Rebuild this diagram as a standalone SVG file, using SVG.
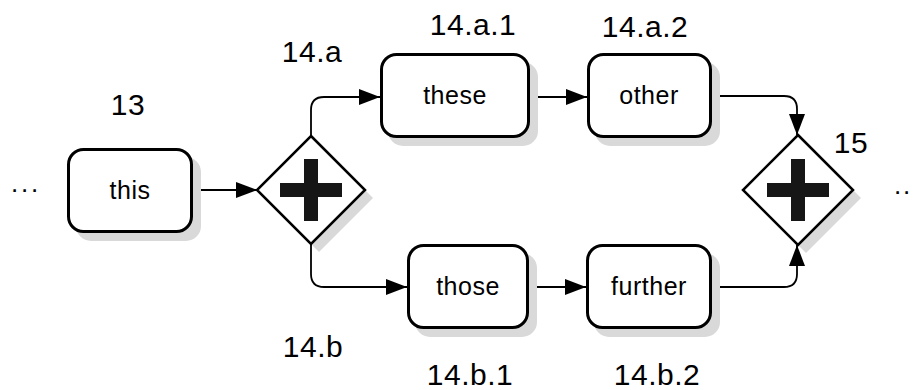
<svg xmlns="http://www.w3.org/2000/svg" width="913" height="390" viewBox="0 0 913 390">
<style>
text{font-family:"Liberation Sans",Arial,sans-serif;fill:#000}
.lbl{font-size:30px;text-anchor:middle;letter-spacing:0.5px}
.txt{font-size:25px;text-anchor:middle;letter-spacing:0.5px}
.box{fill:#fff;stroke:#000;stroke-width:3}
.shadow{fill:#d9d9d9;stroke:none}
.gw{fill:#fff;stroke:#000;stroke-width:2.5}
.plus{fill:#161616}
.conn{fill:none;stroke:#000;stroke-width:1.8}
.dots{font-size:26px}
</style>
<defs>
<marker id="arr" markerUnits="userSpaceOnUse" markerWidth="22" markerHeight="16" refX="21" refY="8" orient="auto">
<path d="M0,0 L21,8 L0,16 Z" fill="#000"/>
</marker>
</defs>
<rect width="913" height="390" fill="#fff"/>
<text class="dots" x="11 21 31" y="192">...</text>
<text class="dots" x="894 903" y="194">..</text>

<g id="connectors">
<path class="conn" d="M193,190 H257" marker-end="url(#arr)"/>
<path class="conn" d="M311,136 V110 Q311,97 324,97 H380" marker-end="url(#arr)"/>
<path class="conn" d="M530,97 H587" marker-end="url(#arr)"/>
<path class="conn" d="M712,96 H784 Q797,96 797,109 V135" marker-end="url(#arr)"/>
<path class="conn" d="M311,244 V274 Q311,287 324,287 H407" marker-end="url(#arr)"/>
<path class="conn" d="M529,287 H586" marker-end="url(#arr)"/>
<path class="conn" d="M712,287 H784 Q797,287 797,274 V245" marker-end="url(#arr)"/>
</g>

<g id="n13">
<rect class="shadow" x="76" y="157" width="125" height="84" rx="15"/>
<rect class="box" x="68.5" y="149.5" width="123" height="82" rx="15"/>
<text class="txt" x="130" y="199">this</text>
<text class="lbl" x="128" y="115">13</text>
</g>

<g id="n14a_gw">
<path class="shadow" d="M319,144 L373,198 L319,252 L265,198 Z"/>
<path class="gw" d="M311,136 L365,190 L311,244 L257,190 Z"/>
<rect class="plus" x="280" y="183" width="62" height="14"/>
<rect class="plus" x="304" y="159" width="14" height="62"/>
<text class="lbl" x="312" y="62">14.a</text>
<text class="lbl" x="313" y="357">14.b</text>
</g>

<g id="n14a1">
<rect class="shadow" x="388" y="62" width="150" height="84" rx="15"/>
<rect class="box" x="381.5" y="54.5" width="147" height="82" rx="15"/>
<text class="txt" x="455" y="104">these</text>
<text class="lbl" x="473" y="35">14.a.1</text>
</g>

<g id="n14a2">
<rect class="shadow" x="595" y="62" width="125" height="84" rx="15"/>
<rect class="box" x="588.5" y="54.5" width="122" height="82" rx="15"/>
<text class="txt" x="649" y="104">other</text>
<text class="lbl" x="645" y="37">14.a.2</text>
</g>

<g id="n14b1">
<rect class="shadow" x="415" y="253" width="122" height="84" rx="15"/>
<rect class="box" x="408.5" y="245.5" width="119" height="82" rx="15"/>
<text class="txt" x="468" y="295">those</text>
<text class="lbl" x="470" y="385">14.b.1</text>
</g>

<g id="n14b2">
<rect class="shadow" x="594" y="253" width="126" height="84" rx="15"/>
<rect class="box" x="587.5" y="245.5" width="123" height="82" rx="15"/>
<text class="txt" x="649" y="295">further</text>
<text class="lbl" x="657" y="385">14.b.2</text>
</g>

<g id="n15">
<path class="shadow" d="M806,143 L861,198 L806,253 L751,198 Z"/>
<path class="gw" d="M798,135 L853,190 L798,245 L743,190 Z"/>
<rect class="plus" x="767" y="183" width="62" height="14"/>
<rect class="plus" x="791" y="159" width="14" height="62"/>
<text class="lbl" x="851" y="153">15</text>
</g>
</svg>
